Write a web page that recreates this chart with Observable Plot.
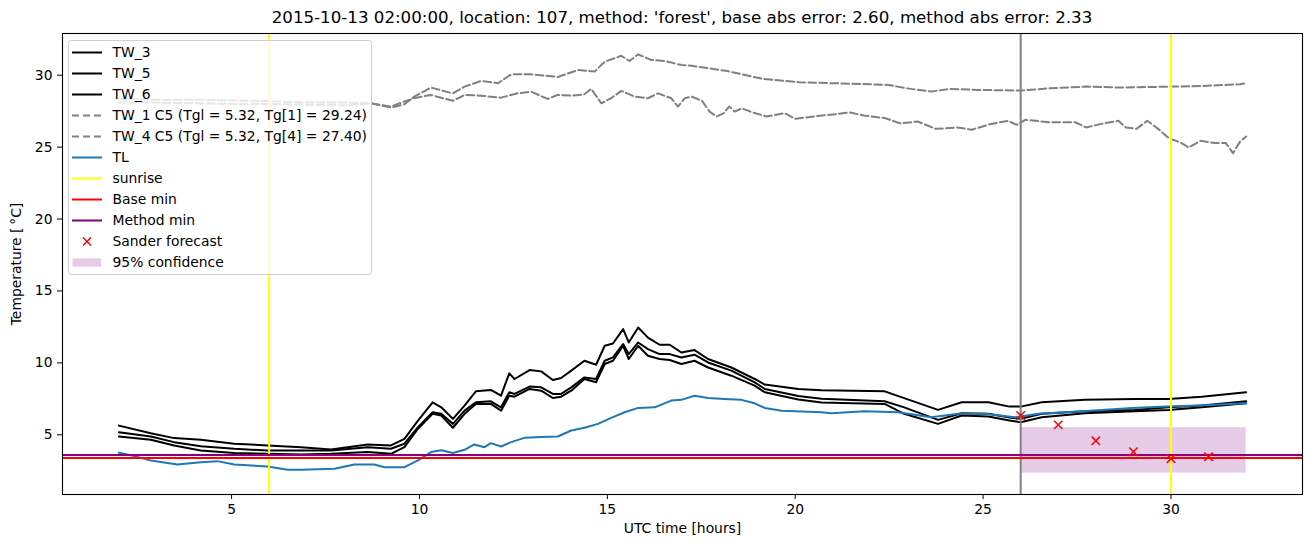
<!DOCTYPE html>
<html>
<head>
<meta charset="utf-8">
<script src="https://cdn.jsdelivr.net/npm/d3@7"></script>
<script src="https://cdn.jsdelivr.net/npm/@observablehq/plot@0.6"></script>
<style>
  html, body { margin: 0; padding: 0; background: #fff; overflow: hidden; }
  #wrap { position: relative; width: 1310px; height: 547px; font-family: "DejaVu Sans", sans-serif; }
  #title { height: 30px; box-sizing: border-box; padding-top: 8px; line-height: 20px; font-size: 16.67px;
           text-align: center; width: 1240px; margin-left: 62px; color: #000; white-space: nowrap; }
  #legend { position: absolute; left: 68px; top: 40px; width: 304px; height: 235px; box-sizing: border-box;
            border: 1px solid #d0d0d0; border-radius: 3px; background: rgba(255,255,255,0.8);
            padding: 0.5px 0 0 3px; font-size: 13.89px; color: #000; }
  .row { display: flex; align-items: center; height: 21px; white-space: nowrap; }
  .row svg { width: 30px; height: 21px; flex: none; margin-right: 10.5px; }
</style>
</head>
<body>
<div id="wrap">
  <div id="title"></div>
  <div id="chart"></div>
  <div id="legend"></div>
</div>
<script>
// ---------- data ----------
const titleText = "2015-10-13 02:00:00, location: 107, method: 'forest', base abs error: 2.60, method abs error: 2.33";

const twHours = [2.0, 2.85, 3.47, 4.18, 5.07, 5.96, 6.85, 7.65, 8.62, 9.24, 9.6, 9.96, 10.35, 10.58, 10.89, 11.2, 11.5, 11.9, 12.17, 12.39, 12.53, 12.93, 13.24, 13.55, 13.77, 14.04, 14.39, 14.7, 14.93, 15.15, 15.42, 15.57, 15.82, 16.08, 16.39, 16.66, 16.97, 17.32, 17.68, 18.3, 18.92, 19.19, 20.08, 20.7, 22.38, 22.9, 23.8, 24.43, 25.14, 25.7, 26.0, 26.56, 27.71, 29.04, 29.93, 30.82, 32.0];
const tw3 = [5.64, 5.11, 4.77, 4.65, 4.38, 4.26, 4.14, 3.98, 4.33, 4.26, 4.72, 5.99, 7.26, 6.91, 6.11, 7.03, 8.02, 8.12, 7.72, 9.27, 8.88, 9.50, 9.41, 8.81, 8.95, 9.46, 10.15, 9.87, 11.19, 11.35, 12.35, 11.42, 12.46, 11.76, 11.26, 11.26, 10.72, 10.89, 10.27, 9.68, 8.88, 8.49, 8.19, 8.10, 8.02, 7.55, 6.73, 7.26, 7.26, 6.96, 6.96, 7.26, 7.43, 7.49, 7.49, 7.65, 7.96];
const tw5 = [5.18, 4.88, 4.49, 4.21, 4.03, 3.91, 3.91, 3.91, 4.14, 4.03, 4.38, 5.53, 6.57, 6.46, 5.76, 6.68, 7.26, 7.33, 6.91, 7.96, 7.84, 8.35, 8.30, 7.84, 7.84, 8.30, 8.99, 8.88, 10.15, 10.38, 11.31, 10.61, 11.42, 10.96, 10.61, 10.61, 10.38, 10.57, 10.03, 9.46, 8.65, 8.19, 7.70, 7.50, 7.33, 6.91, 6.04, 6.50, 6.46, 6.20, 6.11, 6.46, 6.64, 6.73, 6.91, 7.03, 7.33];
const tw6 = [4.88, 4.65, 4.26, 3.91, 3.73, 3.68, 3.63, 3.68, 3.80, 3.68, 4.14, 5.42, 6.46, 6.34, 5.49, 6.46, 7.15, 7.15, 6.68, 7.72, 7.65, 8.19, 8.07, 7.56, 7.65, 8.07, 8.88, 8.65, 9.92, 10.15, 11.19, 10.27, 11.19, 10.50, 10.27, 10.20, 9.92, 10.15, 9.68, 9.11, 8.42, 7.96, 7.45, 7.25, 7.15, 6.46, 5.76, 6.34, 6.27, 6.00, 5.87, 6.22, 6.50, 6.64, 6.73, 6.91, 7.19];

const tw1Hours = [2.0, 3.0, 4.0, 5.0, 6.0, 7.0, 8.0, 8.71, 9.24, 9.6, 9.86, 10.3, 10.89, 11.2, 11.64, 12.09, 12.44, 12.97, 13.68, 14.22, 14.66, 14.93, 15.37, 15.59, 15.82, 16.17, 16.53, 16.97, 17.24, 18.19, 19.14, 20.1, 21.06, 22.01, 22.49, 22.96, 23.63, 24.11, 24.87, 26.02, 26.78, 27.74, 28.69, 30.03, 30.79, 31.84, 32.0];
const tw1 = [28.35, 28.3, 28.3, 28.25, 28.2, 28.1, 28.1, 28.05, 27.75, 27.98, 28.51, 29.14, 28.74, 29.21, 29.60, 29.44, 30.06, 30.06, 29.88, 30.36, 30.25, 30.94, 31.35, 30.99, 31.45, 31.06, 30.99, 30.71, 30.66, 30.29, 29.74, 29.51, 29.44, 29.37, 29.32, 29.09, 28.86, 29.05, 28.98, 28.93, 29.09, 29.21, 29.14, 29.21, 29.25, 29.37, 29.45];

const tw4Hours = [2.0, 3.0, 4.0, 5.0, 6.0, 7.0, 8.0, 8.71, 9.24, 9.6, 9.86, 10.3, 10.89, 11.2, 11.64, 12.17, 12.61, 12.97, 13.41, 13.68, 14.04, 14.39, 14.57, 14.84, 15.1, 15.37, 15.73, 16.08, 16.35, 16.7, 16.88, 17.06, 17.24, 17.52, 17.72, 17.91, 18.1, 18.24, 18.39, 18.58, 18.86, 19.24, 19.72, 20.0, 20.49, 21.06, 21.44, 21.82, 22.4, 22.78, 23.26, 23.74, 24.31, 24.7, 25.18, 25.66, 25.9, 26.12, 26.78, 27.45, 27.74, 28.22, 28.6, 28.8, 29.08, 29.37, 29.66, 29.94, 30.23, 30.47, 30.79, 31.17, 31.46, 31.65, 31.84, 32.0];
const tw4 = [28.1, 28.1, 28.05, 28.0, 28.0, 27.95, 27.9, 28.05, 27.82, 28.17, 28.40, 28.63, 28.22, 28.63, 28.58, 28.44, 28.74, 28.86, 28.35, 28.63, 28.58, 28.67, 29.05, 28.05, 28.40, 28.91, 28.51, 28.40, 28.74, 28.40, 27.82, 28.40, 28.51, 28.22, 27.47, 27.13, 27.36, 27.82, 27.47, 27.70, 27.42, 27.13, 27.36, 26.97, 27.13, 27.29, 27.42, 27.20, 27.01, 26.66, 26.78, 26.27, 26.37, 26.21, 26.59, 26.83, 26.55, 26.90, 26.73, 26.73, 26.37, 26.66, 26.83, 26.37, 26.27, 26.83, 26.27, 25.62, 25.35, 24.98, 25.44, 25.28, 25.28, 24.58, 25.39, 25.74];

const tlHours = [2.0, 2.41, 2.85, 3.56, 4.18, 4.62, 5.07, 5.96, 6.49, 6.85, 7.74, 8.27, 8.8, 9.07, 9.6, 9.96, 10.31, 10.58, 10.89, 11.2, 11.46, 11.73, 11.9, 12.17, 12.44, 12.79, 13.24, 13.68, 14.04, 14.39, 14.75, 15.1, 15.46, 15.82, 16.26, 16.7, 16.97, 17.32, 17.68, 18.12, 18.57, 18.92, 19.19, 19.64, 20.7, 20.96, 21.85, 22.74, 23.62, 24.34, 25.05, 25.85, 26.48, 27.64, 28.97, 29.86, 30.75, 32.0];
const tl = [3.75, 3.52, 3.22, 2.94, 3.10, 3.17, 2.94, 2.80, 2.57, 2.57, 2.64, 2.94, 2.94, 2.75, 2.75, 3.22, 3.80, 3.93, 3.73, 3.96, 4.33, 4.14, 4.42, 4.19, 4.49, 4.79, 4.84, 4.88, 5.30, 5.49, 5.76, 6.18, 6.57, 6.87, 6.91, 7.38, 7.43, 7.72, 7.56, 7.49, 7.43, 7.19, 6.87, 6.68, 6.57, 6.50, 6.64, 6.57, 6.22, 6.46, 6.46, 6.22, 6.46, 6.64, 6.87, 6.96, 7.03, 7.19];

const sunriseHours = [6, 30];
const forecastStartHour = [26];
const baseMin = [3.38];
const methodMin = [3.59];
const sanderHours = [26, 27, 28, 29, 30, 31];
const sanderTemps = [6.34, 5.69, 4.58, 3.82, 3.34, 3.48];
const confHours = [26, 32];
const confTemps = [2.34, 5.5];

const xTicks = [5, 10, 15, 20, 25, 30];
const yTicks = [5, 10, 15, 20, 25, 30];

const legendItems = [
  {label: "TW_3", kind: "line", color: "black"},
  {label: "TW_5", kind: "line", color: "black"},
  {label: "TW_6", kind: "line", color: "black"},
  {label: "TW_1 C5 (Tgl = 5.32, Tg[1] = 29.24)", kind: "dash", color: "gray"},
  {label: "TW_4 C5 (Tgl = 5.32, Tg[4] = 27.40)", kind: "dash", color: "gray"},
  {label: "TL", kind: "line", color: "#1f77b4"},
  {label: "sunrise", kind: "line", color: "yellow"},
  {label: "Base min", kind: "line", color: "red"},
  {label: "Method min", kind: "line", color: "purple"},
  {label: "Sander forecast", kind: "x", color: "red"},
  {label: "95% confidence", kind: "patch", color: "purple"}
];

// ---------- build ----------
const zip = (xs, ys) => xs.map((x, i) => ({x, y: ys[i]}));
const dash = "7.7,3.3";
const lw = 2;

document.getElementById("title").textContent = titleText;

const chart = Plot.plot({
  width: 1310,
  height: 517,
  marginTop: 3,
  marginBottom: 53,
  marginLeft: 62,
  marginRight: 8,
  x: {domain: [0.5, 33.5]},
  y: {domain: [0.85, 32.9]},
  style: {fontFamily: "DejaVu Sans", fontSize: "13.89px", color: "black", background: "white"},
  marks: [
    Plot.rect([{x1: confHours[0], x2: confHours[1], y1: confTemps[0], y2: confTemps[1]}],
      {x1: "x1", x2: "x2", y1: "y1", y2: "y2", fill: "purple", fillOpacity: 0.2}),
    Plot.line(zip(twHours, tw3), {x: "x", y: "y", stroke: "black", strokeWidth: lw}),
    Plot.line(zip(twHours, tw5), {x: "x", y: "y", stroke: "black", strokeWidth: lw}),
    Plot.line(zip(twHours, tw6), {x: "x", y: "y", stroke: "black", strokeWidth: lw}),
    Plot.line(zip(tw1Hours, tw1), {x: "x", y: "y", stroke: "gray", strokeWidth: lw, strokeDasharray: dash}),
    Plot.line(zip(tw4Hours, tw4), {x: "x", y: "y", stroke: "gray", strokeWidth: lw, strokeDasharray: dash}),
    Plot.line(zip(tlHours, tl), {x: "x", y: "y", stroke: "#1f77b4", strokeWidth: lw}),
    Plot.ruleX(sunriseHours, {stroke: "yellow", strokeWidth: lw}),
    Plot.ruleX(forecastStartHour, {stroke: "gray", strokeWidth: lw}),
    Plot.ruleY(baseMin, {stroke: "red", strokeWidth: lw}),
    Plot.ruleY(methodMin, {stroke: "purple", strokeWidth: lw}),
    Plot.dot(zip(sanderHours, sanderTemps), {x: "x", y: "y", symbol: "times", r: 3.9, stroke: "red", strokeWidth: 1.5}),
    Plot.frame({stroke: "black", strokeWidth: 1.1}),
    Plot.axisX({ticks: xTicks, tickSize: 5, tickPadding: 5, label: "UTC time [hours]", labelAnchor: "center", labelArrow: "none", labelOffset: 38}),
    Plot.axisY({ticks: yTicks, tickSize: 5, tickPadding: 5, label: "Temperature [\u2009\u00B0C]", labelAnchor: "center", labelArrow: "none", labelOffset: 51})
  ]
});
document.getElementById("chart").appendChild(chart);

// legend
const NS = "http://www.w3.org/2000/svg";
const legend = document.getElementById("legend");
for (const item of legendItems) {
  const row = document.createElement("div");
  row.className = "row";
  const svg = document.createElementNS(NS, "svg");
  svg.setAttribute("viewBox", "0 0 30 21");
  if (item.kind === "line" || item.kind === "dash") {
    const l = document.createElementNS(NS, "line");
    l.setAttribute("x1", 0); l.setAttribute("x2", 30);
    l.setAttribute("y1", 10.5); l.setAttribute("y2", 10.5);
    l.setAttribute("stroke", item.color); l.setAttribute("stroke-width", lw);
    if (item.kind === "dash") l.setAttribute("stroke-dasharray", "7,4");
    svg.appendChild(l);
  } else if (item.kind === "x") {
    const p = document.createElementNS(NS, "path");
    p.setAttribute("d", "M11,6.5L19,14.5M11,14.5L19,6.5");
    p.setAttribute("stroke", item.color); p.setAttribute("stroke-width", 1.5);
    svg.appendChild(p);
  } else {
    const r = document.createElementNS(NS, "rect");
    r.setAttribute("x", 0.5); r.setAttribute("y", 6.3); r.setAttribute("width", 28.5); r.setAttribute("height", 8.4);
    r.setAttribute("fill", item.color); r.setAttribute("fill-opacity", 0.2);
    svg.appendChild(r);
  }
  row.appendChild(svg);
  const span = document.createElement("span");
  span.textContent = item.label;
  row.appendChild(span);
  legend.appendChild(row);
}
</script>
</body>
</html>
